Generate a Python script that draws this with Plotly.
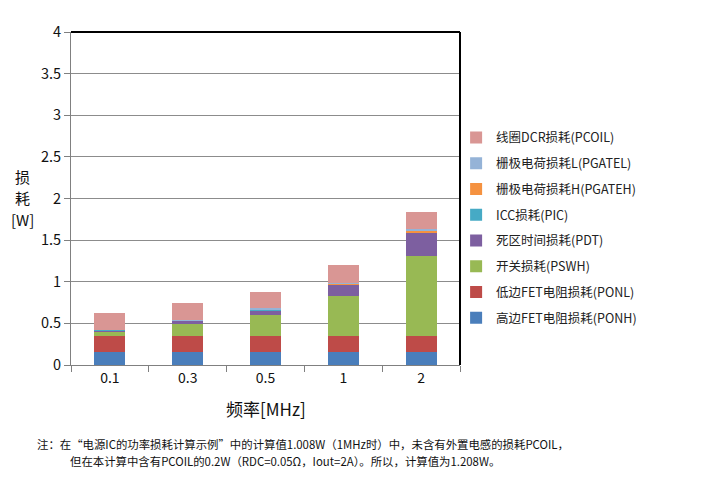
import plotly.graph_objects as go

FONT = "Noto Sans CJK SC, sans-serif"

freqs = ["0.1", "0.3", "0.5", "1", "2"]

# loss components [W], bottom to top of each stack
p_onh = [0.16, 0.16, 0.16, 0.16, 0.16]
p_onl = [0.19, 0.19, 0.19, 0.19, 0.19]
p_swh = [0.047, 0.147, 0.245, 0.478, 0.962]
p_dt = [0.022, 0.033, 0.064, 0.134, 0.276]
p_ic = [0.003, 0.004, 0.005, 0.005, 0.006]
p_gateh = [0.002, 0.006, 0.008, 0.01, 0.017]
p_gatel = [0.002, 0.006, 0.008, 0.01, 0.017]
p_coil = [0.196, 0.197, 0.2, 0.212, 0.21]

series = [
    ("高边FET电阻损耗(PONH)", p_onh, "#4a7ebb"),
    ("低边FET电阻损耗(PONL)", p_onl, "#be4b48"),
    ("开关损耗(PSWH)", p_swh, "#98b954"),
    ("死区时间损耗(PDT)", p_dt, "#7d5fa0"),
    ("ICC损耗(PIC)", p_ic, "#46aac5"),
    ("栅极电荷损耗H(PGATEH)", p_gateh, "#f59240"),
    ("栅极电荷损耗L(PGATEL)", p_gatel, "#95b3d7"),
    ("线圈DCR损耗(PCOIL)", p_coil, "#d99694"),
]

fig = go.Figure()
for i, (name, vals, color) in enumerate(series):
    fig.add_trace(go.Bar(
        x=freqs, y=vals, name=name, legendgroup=f"g{i}",
        legendrank=100 - i,
        marker=dict(color=color, line=dict(width=0)),
    ))

# page body adds 8px on top/left, so the figure is 8px smaller
fig.update_layout(
    barmode="stack",
    bargap=0.6,
    width=702, height=488,
    margin=dict(l=63, r=250, t=22, b=131),
    paper_bgcolor="white", plot_bgcolor="white",
    font=dict(family=FONT, size=13, color="#111"),
    showlegend=True,
    legend=dict(
        x=0.99, xanchor="left", y=0.412, yanchor="middle",
        traceorder="grouped", tracegroupgap=6.5,
        font=dict(size=12.5, color="#222"),
        bgcolor="rgba(0,0,0,0)",
        itemwidth=30,
    ),
)
fig.update_xaxes(
    type="category", showline=True, linecolor="#808080", linewidth=1,
    ticks="outside", tickson="boundaries", ticklen=6, tickcolor="#808080",
    tickfont=dict(size=14), showgrid=False,
)
fig.update_yaxes(
    range=[0, 4], dtick=0.5, tickformat="~g",
    showline=True, linecolor="#808080", linewidth=1,
    ticks="outside", ticklen=6, tickcolor="#808080",
    gridcolor="#8c8c8c", gridwidth=1, tickfont=dict(size=14.5),
    zeroline=False,
)

# black frame on top and right
fig.add_shape(type="line", xref="paper", yref="paper", x0=0, x1=1, y0=1, y1=1,
              line=dict(color="black", width=2))
fig.add_shape(type="line", xref="paper", yref="paper", x0=1, x1=1, y0=0, y1=1,
              line=dict(color="black", width=2))

for txt, yy in [("损", 0.566), ("耗", 0.502), ("[W]", 0.438)]:
    fig.add_annotation(text=txt, xref="paper", yref="paper",
                       x=-0.125, y=yy, xanchor="center", yanchor="middle",
                       showarrow=False, font=dict(size=15))
fig.add_annotation(text="频率[MHz]", xref="paper", yref="paper",
                   x=0.5, y=-0.13, xanchor="center", yanchor="middle",
                   showarrow=False, font=dict(size=17))

note1 = "注：在“电源IC的功率损耗计算示例”中的计算值1.008W（1MHz时）中，未含有外置电感的损耗PCOIL，"
note2 = "但在本计算中含有PCOIL的0.2W（RDC=0.05Ω，Iout=2A）。所以，计算值为1.208W。"
fig.add_annotation(text=note1, xref="paper", yref="paper", x=-0.093, y=-0.238,
                   xanchor="left", yanchor="middle", showarrow=False,
                   font=dict(size=11.4, color="#111"))
fig.add_annotation(text=note2, xref="paper", yref="paper", x=-0.008, y=-0.288,
                   xanchor="left", yanchor="middle", showarrow=False,
                   font=dict(size=11.4, color="#111"))

fig.write_html("out.html")
